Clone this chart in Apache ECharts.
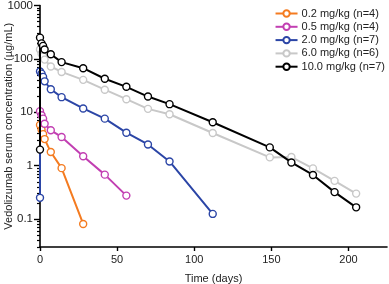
<!DOCTYPE html>
<html>
<head>
<meta charset="utf-8">
<script src="https://cdn.jsdelivr.net/npm/echarts@6/dist/echarts.min.js"></script>
<style>
  html, body { margin: 0; padding: 0; background: #fff; }
  #chart { width: 389px; height: 284px; }
</style>
</head>
<body>
<div id="chart"></div>
<script>
// sampling days and mean concentrations (µg/mL)
const daysEarly = [0, 0, 1, 2, 3, 7, 14, 28];
const daysLong = [0, 0, 1, 2, 3, 7, 14, 28, 42, 56, 70, 84, 112, 149, 163, 177, 191, 205];

const dose02 = [5.8, 4.7, 3.9, 3.15, 1.8, 0.9, 0.081];               // days 0,1,2,3,7,14,28
const dose05 = [10.5, 8.8, 7.6, 6.1, 4.6, 3.45, 1.5, 0.68, 0.275];   // days 0..56
const dose20 = [0.25, 58, 53, 46, 38, 27, 19.2, 11.8, 7.6, 4.15, 2.5, 1.2, 0.125]; // pre + 0..112
const dose60 = [150, 125, 112, 97, 72, 57, 40.5, 26.5, 17.6, 11.6, 9.2, 4.1, 1.43, 1.45, 0.89, 0.52, 0.3];
const dose100 = [2, 250, 195, 175, 150, 122, 87, 67, 42.5, 30, 19.7, 14.2, 6.5, 2.2, 1.15, 0.67, 0.32, 0.166];

const seriesNames = ['0.2 mg/kg (n=4)', '0.5 mg/kg (n=4)', '2.0 mg/kg (n=7)', '6.0 mg/kg (n=6)', '10.0 mg/kg (n=7)'];
const seriesColors = ['#f47b20', '#c23fb2', '#2b45a6', '#c8c8c8', '#000000'];

const xTicks = [0, 50, 100, 150, 200];
const yTicks = [0.1, 1, 10, 100, 1000];

// minor log ticks 2..9 x each decade, from 0.03 up
const yMinorTicks = [];
[0.01, 0.1, 1, 10, 100].forEach(d => {
    for (let k = 2; k <= 9; k++) {
        const v = +(k * d).toPrecision(3);
        if (v >= 0.03) yMinorTicks.push(v);
    }
});

function pairs(days, values) {
    return values.map((v, i) => [days[i], v]);
}

const seriesData = [
    pairs(daysEarly.slice(1), dose02),
    pairs(daysLong.slice(1), dose05),
    pairs(daysLong, dose20),
    pairs(daysLong.slice(1), dose60),
    pairs(daysLong, dose100)
];

const font = 'Liberation Sans, Arial, sans-serif';
const chart = echarts.init(document.getElementById('chart'));

const gridLeft = 40, gridRight = 2;
const plotWidth = 389 - gridLeft - gridRight;

const yCommon = {
    type: 'log',
    logBase: 10,
    min: 0.03,
    max: 1000,
    splitLine: { show: false },
    minorTick: { show: false }
};

chart.setOption({
    animation: false,
    textStyle: { fontFamily: font },
    grid: { left: gridLeft, right: gridRight, top: 5.5, bottom: 37, containLabel: false, outerBoundsMode: 'none' },
    legend: {
        orient: 'vertical',
        right: 4,
        top: 7.5,
        padding: 0,
        itemWidth: 22,
        itemHeight: 8,
        itemGap: 1.3,
        textStyle: { fontSize: 11, lineHeight: 12, color: '#222', fontFamily: font, padding: [0, 0, 0, -1] },
        data: seriesNames
    },
    xAxis: {
        type: 'value',
        min: 0,
        max: 225,
        name: 'Time (days)',
        nameLocation: 'middle',
        nameGap: 26.5,
        nameTextStyle: { fontSize: 11, color: '#222' },
        axisLine: { lineStyle: { color: '#000', width: 1.6 } },
        axisTick: { customValues: xTicks, length: 4, lineStyle: { color: '#000', width: 1.4 } },
        axisLabel: { customValues: xTicks, fontSize: 11, color: '#222', margin: 7 },
        splitLine: { show: false }
    },
    yAxis: [
        Object.assign({}, yCommon, {
            position: 'left',
            name: 'Vedolizumab serum concentration (µg/mL)',
            nameLocation: 'middle',
            nameGap: 26,
            nameMoveOverlap: false,
            nameTextStyle: { fontSize: 11, color: '#222' },
            axisLine: { show: true, lineStyle: { color: '#000', width: 1.6 } },
            axisTick: { customValues: yTicks, length: 6, lineStyle: { color: '#000', width: 1.4 } },
            axisLabel: {
                customValues: yTicks,
                fontSize: 11.5,
                color: '#222',
                margin: 7,
                formatter: v => String(v)
            }
        }),
        // second copy of the scale, moved onto the left edge, carrying the short minor ticks
        Object.assign({}, yCommon, {
            position: 'right',
            offset: -plotWidth,
            axisLine: { show: false },
            axisTick: { show: true, inside: true, customValues: yMinorTicks, length: 3, lineStyle: { color: '#000', width: 1.2 } },
            axisLabel: { show: false }
        })
    ],
    series: seriesData.map((d, i) => ({
        name: seriesNames[i],
        type: 'line',
        data: d,
        yAxisIndex: 0,
        clip: false,
        symbol: 'circle',
        symbolSize: 7,
        color: seriesColors[i],
        lineStyle: { color: seriesColors[i], width: 2 },
        itemStyle: { color: '#fff', borderColor: seriesColors[i], borderWidth: 1.4 },
        z: 2 + i
    }))
});
</script>
</body>
</html>
